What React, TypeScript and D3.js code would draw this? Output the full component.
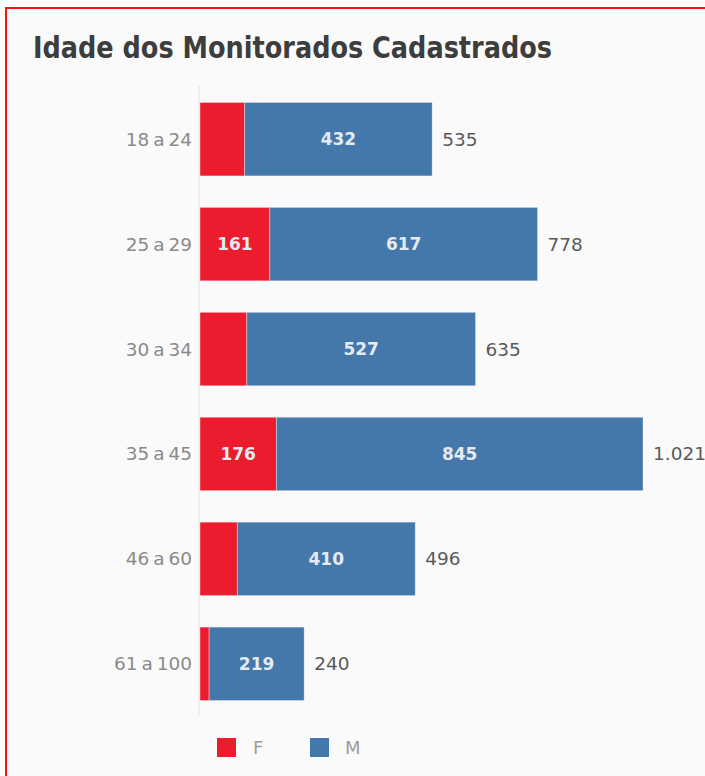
import * as d3 from "d3";
import { useEffect, useRef } from "react";

// Faixas etárias e contagens por sexo
const categories = ["18 a 24", "25 a 29", "30 a 34", "35 a 45", "46 a 60", "61 a 100"];
const femValues = [103, 161, 108, 176, 86, 21];
const mascValues = [432, 617, 527, 845, 410, 219];
const seriesNames = ["F", "M"];
const seriesColors = ["#ed1b2e", "#4477aa"];

const W = 705;
const H = 776;

const App = () => {
  const svgRef = useRef<SVGSVGElement | null>(null);

  useEffect(() => {
    if (!svgRef.current) return;
    const svg = d3.select(svgRef.current);
    svg.selectAll("*").remove();

    const fmt = (v: number) => d3.format(",")(v).replace(/,/g, ".");
    const totals = categories.map((_, i) => femValues[i] + mascValues[i]);

    // panel background + red frame (right and bottom run off the picture)
    svg.append("rect").attr("width", W).attr("height", H).attr("fill", "#ffffff");
    svg
      .append("rect")
      .attr("x", 6)
      .attr("y", 8)
      .attr("width", W + 40)
      .attr("height", H + 40)
      .attr("fill", "#fafafa")
      .attr("stroke", "#ff1010")
      .attr("stroke-width", 2);

    svg
      .append("text")
      .attr("x", 33)
      .attr("y", 58)
      .attr("font-family", "'DejaVu Sans Condensed', 'DejaVu Sans', sans-serif")
      .attr("font-weight", "bold")
      .attr("font-size", 30)
      .attr("fill", "#3d3d3d")
      .attr("textLength", 519)
      .attr("lengthAdjust", "spacingAndGlyphs")
      .text("Idade dos Monitorados Cadastrados");

    const x = d3.scaleLinear().domain([0, 1021]).range([200, 643]);
    const y = d3
      .scaleBand<string>()
      .domain(categories)
      .range([86, 717])
      .paddingInner(0.3)
      .paddingOuter(0.157);

    // axis line
    svg
      .append("line")
      .attr("x1", x(0) - 1)
      .attr("x2", x(0) - 1)
      .attr("y1", 86)
      .attr("y2", 716)
      .attr("stroke", "#e2e2e2")
      .attr("stroke-width", 1);

    const rows = categories.map((c, i) => ({ cat: c, vals: [femValues[i], mascValues[i]], total: totals[i] }));

    const font = "'DejaVu Sans', sans-serif";

    const row = svg
      .append("g")
      .selectAll("g")
      .data(rows)
      .join("g")
      .attr("transform", (d) => `translate(0,${y(d.cat)})`);

    row.each(function (d) {
      const g = d3.select(this);
      const bw = y.bandwidth();
      let acc = 0;
      d.vals.forEach((v, k) => {
        const x0 = x(acc);
        const x1 = x(acc + v);
        acc += v;
        g.append("rect")
          .attr("x", x0)
          .attr("y", 0)
          .attr("width", x1 - x0)
          .attr("height", bw)
          .attr("fill", seriesColors[k])
          .attr("stroke", "#f4f4f4")
          .attr("stroke-opacity", 0.5)
          .attr("stroke-width", 0.8);
        if (x1 - x0 > 60) {
          g.append("text")
            .attr("x", (x0 + x1) / 2)
            .attr("y", bw / 2)
            .attr("dy", "0.35em")
            .attr("text-anchor", "middle")
            .attr("font-family", font)
            .attr("font-weight", "bold")
            .attr("font-size", 17)
            .attr("fill", "#e4eaf1")
            .text(fmt(v));
        }
      });

      g.append("text")
        .attr("x", 192)
        .attr("y", bw / 2)
        .attr("dy", "0.35em")
        .attr("text-anchor", "end")
        .attr("font-family", font)
        .attr("font-size", 18.5)
        .attr("word-spacing", -2)
        .attr("fill", "#8a8a8a")
        .text(d.cat);

      g.append("text")
        .attr("x", x(d.total) + 10)
        .attr("y", bw / 2)
        .attr("dy", "0.35em")
        .attr("font-family", font)
        .attr("font-size", 18.5)
        .attr("fill", "#5a5a5a")
        .text(fmt(d.total));
    });

    // legend
    const legend = svg
      .append("g")
      .selectAll("g")
      .data(seriesNames)
      .join("g")
      .attr("transform", (_d, i) => `translate(${217 + i * 93},738)`);
    legend
      .append("rect")
      .attr("width", 19)
      .attr("height", 19)
      .attr("fill", (_d, i) => seriesColors[i]);
    legend
      .append("text")
      .attr("x", (_d, i) => (i === 0 ? 36 : 35))
      .attr("y", 9.5)
      .attr("dy", "0.35em")
      .attr("font-family", font)
      .attr("font-size", 18)
      .attr("fill", "#9a9a9a")
      .text((d) => d);
  }, []);

  return (
    <svg
      ref={svgRef}
      width={W}
      height={H}
      style={{ position: "absolute", left: 0, top: 0, display: "block" }}
    />
  );
};

export default App;
